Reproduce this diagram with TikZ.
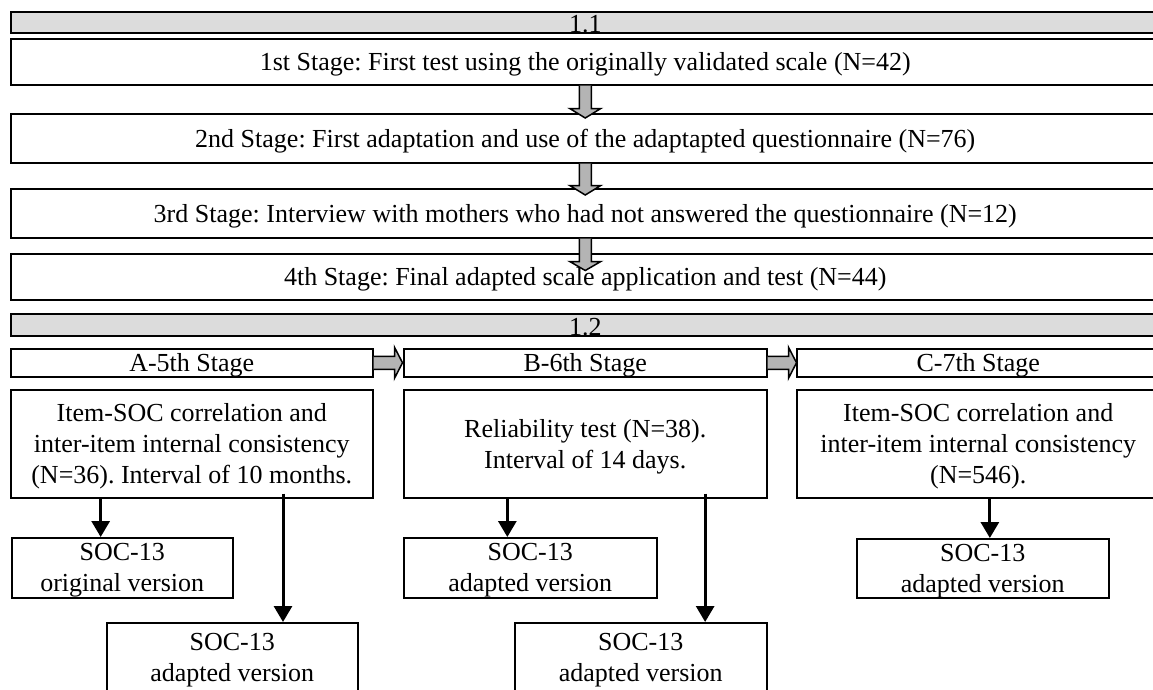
\documentclass[tikz,border=0pt]{standalone}
\usepackage{fontspec}
\setmainfont{Liberation Serif}
\usetikzlibrary{arrows.meta,calc}
\definecolor{barfill}{HTML}{DCDCDC}
\definecolor{arrowfill}{HTML}{B4B4B4}
\frenchspacing
\begin{document}
\begin{tikzpicture}[x=1pt,y=-1pt,
  txt/.style={font=\fontsize{26}{31}\selectfont},
  box/.style={draw,line width=1.5pt,txt,inner sep=0pt,anchor=north west,align=center},
  bar/.style={box,fill=barfill,minimum width=1149pt,text height=21pt,text depth=0pt},
  stagebox/.style={box,minimum width=1149pt,text height=17.5pt,text depth=0pt},
  headbox/.style={box,minimum width=363pt,minimum height=28pt,text height=23pt,text depth=5pt},
  mainbox/.style={box,minimum width=363pt,minimum height=108pt,text depth=0pt},
  socbox/.style={box,minimum width=252pt,text depth=0pt},
  blk/.style={line width=3pt,-{Triangle[width=18pt,length=16pt]}},
  garrow/.style={draw,line width=1.5pt,fill=arrowfill,line join=miter}
]
\clip (0,0) rectangle (1153,689);
\fill[white] (0,0) rectangle (1153,689);

% ---- section 1.1 ----
\node[bar,minimum height=21pt] (b1) at (10,11) {1.1};
\node[stagebox,minimum height=46pt] (s1) at (10,38) {1st Stage: First test using the originally validated scale (N=42)};
\node[stagebox,minimum height=49pt] (s2) at (10,113) {2nd Stage: First adaptation and use of the adaptapted questionnaire (N=76)};
\node[stagebox,minimum height=49pt] (s3) at (10,188) {3rd Stage: Interview with mothers who had not answered the questionnaire (N=12)};
\node[stagebox,minimum height=46pt] (s4) at (10,253) {4th Stage: Final adapted scale application and test (N=44)};

\draw[garrow] ([xshift=-6pt]s1.south) -- ++(0,23) -- ++(-9.5,0) -- ++(15.5,9.5) -- ++(15.5,-9.5) -- ++(-9.5,0) -- ++(0,-23);
\draw[garrow] ([xshift=-6pt]s2.south) -- ++(0,22) -- ++(-9.5,0) -- ++(15.5,9.5) -- ++(15.5,-9.5) -- ++(-9.5,0) -- ++(0,-22);
\draw[garrow] ([xshift=-6pt]s3.south) -- ++(0,23) -- ++(-9.5,0) -- ++(15.5,9) -- ++(15.5,-9) -- ++(-9.5,0) -- ++(0,-23);

% ---- section 1.2 ----
\node[bar,minimum height=22pt] (b2) at (10,313) {1.2};
\node[headbox,minimum width=362pt] (Ah) at (10,348) {A-5th Stage};
\node[headbox] (Bh) at (403,348) {B-6th Stage};
\node[headbox] (Ch) at (796,348) {C-7th Stage};

\draw[garrow] ([yshift=6.5pt]Ah.east) -- ++(21,0) -- ++(0,-9) -- ++(8,15.5) -- ++(-8,15.5) -- ++(0,-9) -- ++(-21,0);
\draw[garrow] ([yshift=6.5pt]Bh.east) -- ++(21,0) -- ++(0,-9) -- ++(8,15.5) -- ++(-8,15.5) -- ++(0,-9) -- ++(-21,0);

\node[mainbox,minimum width=362pt] (A) at (10,389) {Item-SOC correlation and\\inter-item internal consistency\\(N=36). Interval of 10 months.};
\node[mainbox] (B) at (403,389) {Reliability test (N=38).\\Interval of 14 days.};
\node[mainbox] (C) at (796,389) {Item-SOC correlation and\\inter-item internal consistency\\(N=546).};

\node[socbox,minimum width=221pt,minimum height=60pt] (A1) at (11,537) {SOC-13\\original version};
\node[socbox,minimum width=251pt,minimum height=70pt] (A2) at (106,622) {SOC-13\\adapted version};
\node[socbox,minimum width=253pt,minimum height=60pt] (B1) at (403,537) {SOC-13\\adapted version};
\node[socbox,minimum height=70pt] (B2) at (514,622) {SOC-13\\adapted version};
\node[socbox,minimum height=59pt] (C1) at (856,538) {SOC-13\\adapted version};

\coordinate (pA1) at ($(A1.north west)!0.403!(A1.north east)$);
\coordinate (pA2) at ($(A2.north west)!0.701!(A2.north east)$);
\coordinate (pB1) at ($(B1.north west)!0.41!(B1.north east)$);
\coordinate (pB2) at ($(B2.north west)!0.754!(B2.north east)$);
\coordinate (pC1) at ($(C1.north west)!0.528!(C1.north east)$);
\coordinate (qA2) at (pA2 |- A.south);
\coordinate (qB2) at (pB2 |- B.south);

\draw[blk] (pA1 |- A.south) -- (pA1);
\draw[blk] ([yshift=5pt]qA2) -- (pA2);
\draw[blk] (pB1 |- B.south) -- (pB1);
\draw[blk] ([yshift=5pt]qB2) -- (pB2);
\draw[blk] (pC1 |- C.south) -- (pC1);
\end{tikzpicture}
\end{document}
